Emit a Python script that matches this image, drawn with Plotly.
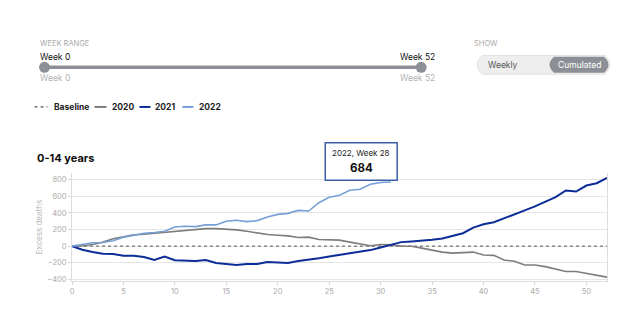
import plotly.graph_objects as go

# ---- data (cumulated excess deaths, 0-14 years) ----
weeks = list(range(0, 53))
y2020 = [0, 2, 20, 48, 88, 115, 135, 143, 155, 160, 171, 187, 195, 211, 211, 207, 195, 179, 160, 139,
         131, 123, 104, 108, 80, 76, 72, 48, 28, 4, 20, 15, 0, -2, -24, -48, -72, -84, -80, -72,
         -107, -111, -167, -183, -227, -227, -247, -279, -306, -306, -330, -346, -374]
y2021 = [0, -44, -72, -92, -96, -115, -116, -131, -167, -127, -171, -171, -179, -167, -203, -215, -227, -215, -215, -191,
         -195, -203, -179, -167, -147, -125, -107, -84, -68, -48, -16, 20, 48, 56, 64, 76, 92, 120, 155, 223,
         263, 287, 338, 386, 430, 478, 534, 590, 669, 657, 729, 757, 820]
weeks2022 = list(range(0, 32))
y2022 = [0, 20, 40, 44, 64, 107, 131, 155, 163, 179, 231, 239, 235, 255, 255, 299, 311, 295, 307, 350,
         382, 394, 430, 422, 522, 587, 613, 673, 684, 745, 765, 772]
baseline = [0] * len(weeks)
xticks = [0, 5, 10, 15, 20, 25, 30, 35, 40, 45, 50]
yticks = [-400, -200, 0, 200, 400, 600, 800]
tip_week = 28

FONT = "Inter"
W, H = 640, 326
L, R, T, B = 71.5, 33, 172.6, 44.5
PW, PH = W - L - R, H - T - B


def px(x):
    return (x - L) / PW


def py(y):
    return 1 - (y - T) / PH


fig = go.Figure()
fig.add_trace(go.Scatter(x=weeks, y=baseline, mode="lines", name="Baseline",
                         line=dict(color="#555555", width=1, dash="3px,3px"), hoverinfo="skip"))
fig.add_trace(go.Scatter(x=weeks, y=y2020, mode="lines", name="2020",
                         line=dict(color="#7d7d7d", width=1.6)))
fig.add_trace(go.Scatter(x=weeks, y=y2021, mode="lines", name="2021",
                         line=dict(color="#0c2c98", width=2)))
fig.add_trace(go.Scatter(x=weeks2022, y=y2022, mode="lines", name="2022",
                         line=dict(color="#77a0d8", width=1.6)))

shapes = []
ann = []


def text(x, y, s, size=8, color="#222", xanchor="left", bold=False, angle=0, family=FONT):
    ann.append(dict(x=px(x), y=py(y), xref="paper", yref="paper", text=("<b>%s</b>" % s) if bold else s,
                    showarrow=False, xanchor=xanchor, yanchor="middle", textangle=angle,
                    font=dict(size=size, color=color, family=family)))


# ---- top controls ----
text(37, 42, "WEEK RANGE", size=7.5, color="#a8a8a8")
text(37, 56, "Week 0", size=8.5, color="#111")
text(437, 56, "Week 52", size=8.5, color="#111", xanchor="right")
text(37, 77, "Week 0", size=8.5, color="#b0b0b0")
text(437, 77, "Week 52", size=8.5, color="#b0b0b0", xanchor="right")
shapes.append(dict(type="line", xref="paper", yref="paper", x0=px(44), x1=px(421), y0=py(66), y1=py(66),
                   line=dict(color="#8c8f95", width=3.5)))
for cx in (44, 421):
    shapes.append(dict(type="circle", xref="paper", yref="paper", x0=px(cx - 5.5), x1=px(cx + 5.5),
                       y0=py(66 + 5.5), y1=py(66 - 5.5), fillcolor="#8c8f95", line=dict(width=0)))

text(472, 42, "SHOW", size=7.5, color="#a8a8a8")
shapes.append(dict(type="path", xref="paper", yref="paper",
                   path="M %f,%f L %f,%f Q %f,%f %f,%f L %f,%f Q %f,%f %f,%f Z" % (
                       px(482), py(54), px(605), py(54), px(615), py(63.5), px(605), py(73),
                       px(482), py(73), px(472), py(63.5), px(482), py(54)),
                   fillcolor="#eeeeee", line=dict(color="#e2e2e2", width=1)))
shapes.append(dict(type="path", xref="paper", yref="paper",
                   path="M %f,%f L %f,%f Q %f,%f %f,%f L %f,%f Q %f,%f %f,%f Z" % (
                       px(554), py(55.5), px(604), py(55.5), px(613), py(63.5), px(604), py(71.5),
                       px(554), py(71.5), px(545), py(63.5), px(554), py(55.5)),
                   fillcolor="#8c8f95", line=dict(width=0)))
text(503, 64, "Weekly", size=8.5, color="#555", xanchor="center")
text(579, 64, "Cumulated", size=8.5, color="#ffffff", xanchor="center")

# ---- legend ----
leg = [("Baseline", "#555555", "dot", 34, 47, 51), ("2020", "#7d7d7d", "solid", 94, 106, 110),
       ("2021", "#0c2c98", "solid", 139, 150, 153), ("2022", "#77a0d8", "solid", 182, 193, 197)]
for name, col, dash, x0, x1, tx in leg:
    shapes.append(dict(type="line", xref="paper", yref="paper", x0=px(x0), x1=px(x1), y0=py(106), y1=py(106),
                       line=dict(color=col, width=2 if dash == "solid" else 1.2, dash=dash)))
    text(tx, 106, name, size=8.5, color="#222", bold=True)

# ---- title & axis title ----
text(34, 157, "0-14 years", size=11, color="#111", bold=True)
text(38, 227, "Excess deaths", size=8, color="#b8b8b8", xanchor="center", angle=-90)

# ---- tooltip ----
shapes.append(dict(type="rect", xref="paper", yref="paper", x0=px(325), x1=px(397), y0=py(180), y1=py(142),
                   fillcolor="#ffffff", line=dict(color="#3c5ea8", width=1.5)))
text(361, 152, "2022, Week %d" % tip_week, size=8, color="#222", xanchor="center")
text(361, 168, "%d" % y2022[tip_week], size=11.5, color="#111", xanchor="center", bold=True)

fig.update_layout(
    width=W, height=H, margin=dict(l=L, r=R, t=T, b=B),
    paper_bgcolor="white", plot_bgcolor="white", showlegend=False,
    shapes=shapes, annotations=ann,
    font=dict(family=FONT),
    xaxis=dict(range=[0, 52], tickvals=xticks, showgrid=False, zeroline=False,
               showline=True, linecolor="#dddddd", linewidth=1,
               ticks="outside", ticklen=3, tickcolor="#d5d5d5",
               tickfont=dict(size=7.5, color="#ababab", family=FONT)),
    yaxis=dict(range=[-420, 880], tickvals=yticks, showgrid=True, gridcolor="#e6e6e6", gridwidth=1,
               zeroline=False, showline=True, linecolor="#dddddd", linewidth=1, mirror=True,
               ticks="outside", ticklen=3, tickcolor="#d5d5d5",
               tickfont=dict(size=7.5, color="#ababab", family=FONT)),
)

fig.write_html("out.html")
